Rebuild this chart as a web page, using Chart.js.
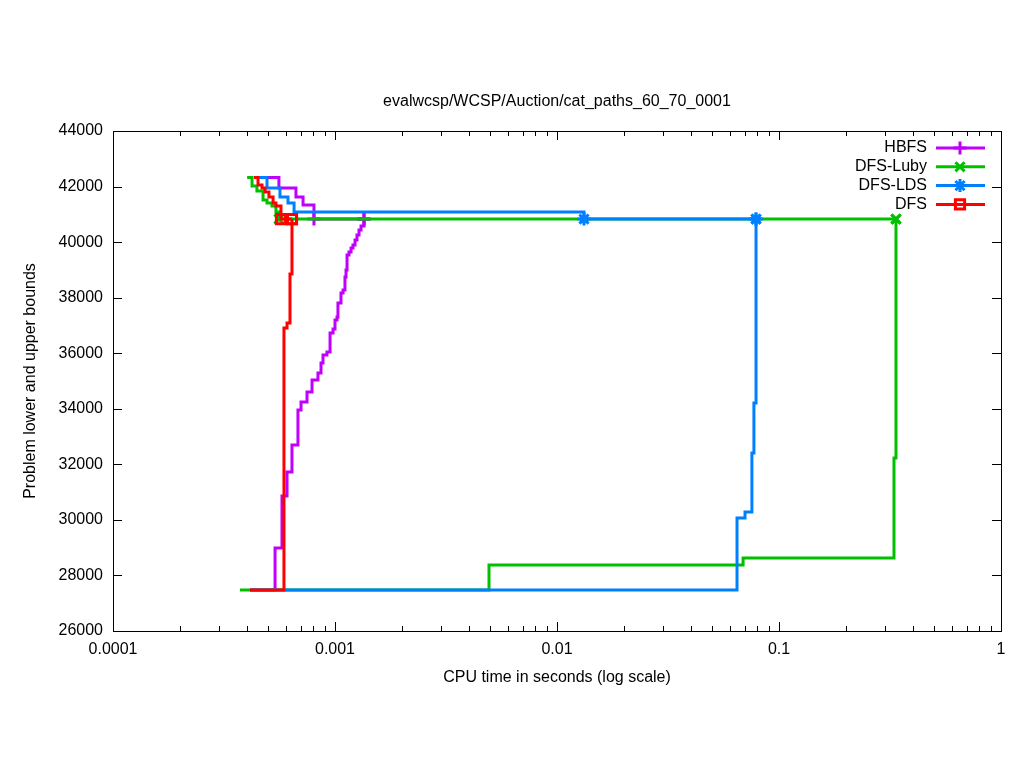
<!DOCTYPE html>
<html>
<head>
<meta charset="utf-8">
<script src="https://cdn.jsdelivr.net/npm/chart.js@4/dist/chart.umd.min.js"></script>
<style>
  html, body { margin: 0; padding: 0; background: #fff; }
  #chart { display: block; }
</style>
</head>
<body>
<canvas id="chart" width="1024" height="768"></canvas>
<script>
// ---- data (CPU seconds, bound value) ----
const TITLE = 'evalwcsp/WCSP/Auction/cat_paths_60_70_0001';
const OPTIMUM = 40830;

const hbfsUpperTime = [0.000432, 0.000559, 0.000667, 0.000718, 0.000804, 0.001351];
const hbfsUpperCost = [42330, 41950, 41620, 41340, 40830, 40830];
const hbfsLowerTime = [0.000414, 0.000537, 0.000577, 0.000608, 0.000640, 0.000681, 0.000703, 0.000748,
  0.000788, 0.000838, 0.000865, 0.000883, 0.000920, 0.000950, 0.000980, 0.001000, 0.001021, 0.001031,
  0.001064, 0.001087, 0.001109, 0.001121, 0.001133, 0.001156, 0.001181, 0.001205, 0.001231, 0.001256,
  0.001283, 0.001310, 0.001351];
const hbfsLowerCost = [27480, 28990, 30860, 31720, 32700, 33960, 34240, 34600,
  35040, 35290, 35650, 35940, 36040, 36730, 36870, 37200, 37300, 37810,
  38170, 38280, 38740, 39000, 39540, 39640, 39790, 39900, 40080, 40260,
  40440, 40580, 40830];

const lubyUpperTime = [0.000402, 0.000423, 0.000445, 0.000474, 0.000494, 0.000520, 0.000542, 0.000559, 0.3365];
const lubyUpperCost = [42330, 42020, 41840, 41520, 41410, 41300, 41080, 40830, 40830];
const lubyLowerTime = [0.000373, 0.00494, 0.0689, 0.3296, 0.3365];
const lubyLowerCost = [27480, 28380, 28630, 32230, 40830];

const ldsUpperTime = [0.000432, 0.000494, 0.000565, 0.000614, 0.000654, 0.01323, 0.0788];
const ldsUpperCost = [42330, 41950, 41620, 41410, 41080, 40830, 40830];
const ldsLowerTime = [0.000414, 0.0647, 0.0703, 0.0755, 0.0771, 0.0788];
const ldsLowerCost = [27480, 30070, 30280, 32410, 34210, 40830];

const dfsUpperTime = [0.000432, 0.000450, 0.000469, 0.000484, 0.000504, 0.000526, 0.000542, 0.000571, 0.000640];
const dfsUpperCost = [42330, 42060, 41950, 41800, 41620, 41410, 41300, 40830, 40830];
const dfsLowerTime = [0.000414, 0.000589, 0.000608, 0.000627, 0.000640];
const dfsLowerCost = [27480, 36910, 37090, 38850, 40830];

const xTickValues = [0.0001, 0.001, 0.01, 0.1, 1];

// name, colour, marker, draw order (lower = on top)
const METHODS = [
  { name: 'HBFS',     color: '#c000ff', marker: 'cross',    order: 4, up: [hbfsUpperTime, hbfsUpperCost], lo: [hbfsLowerTime, hbfsLowerCost] },
  { name: 'DFS-Luby', color: '#00c000', marker: 'crossRot', order: 3, up: [lubyUpperTime, lubyUpperCost], lo: [lubyLowerTime, lubyLowerCost] },
  { name: 'DFS-LDS',  color: '#0080ff', marker: 'star',     order: 2, up: [ldsUpperTime, ldsUpperCost],   lo: [ldsLowerTime, ldsLowerCost] },
  { name: 'DFS',      color: '#ff0000', marker: 'rect',     order: 1, up: [dfsUpperTime, dfsUpperCost],   lo: [dfsLowerTime, dfsLowerCost] }
];

const MARK_R = 6.5;
const toPoints = (t, c) => t.map((x, i) => ({ x, y: c[i] }));

function makeDataset(m, pair, isUpper) {
  const pts = toPoints(pair[0], pair[1]);
  return {
    label: m.name + (isUpper ? ' ub' : ' lb'),
    data: pts,
    borderColor: m.color,
    borderWidth: 3,
    borderJoinStyle: 'miter',
    borderCapStyle: 'butt',
    stepped: 'before',
    fill: false,
    order: m.order,
    pointStyle: m.marker,
    pointBorderColor: m.color,
    pointBackgroundColor: 'rgba(0,0,0,0)',
    pointBorderWidth: 3,
    pointHoverRadius: 0,
    pointRadius: ctx => {
      const p = ctx.raw;
      if (!p || p.y !== OPTIMUM) return 0;
      return (isUpper || ctx.dataIndex === pts.length - 1) ? MARK_R : 0;
    }
  };
}

const datasets = [];
METHODS.forEach(m => {
  datasets.push(makeDataset(m, m.up, true));
  datasets.push(makeDataset(m, m.lo, false));
});

function drawMarker(ctx, style, x, y, r) {
  const d = r * Math.SQRT1_2;
  ctx.beginPath();
  if (style === 'cross' || style === 'star') {
    ctx.moveTo(x - r, y); ctx.lineTo(x + r, y);
    ctx.moveTo(x, y - r); ctx.lineTo(x, y + r);
  }
  if (style === 'crossRot' || style === 'star') {
    ctx.moveTo(x - d, y - d); ctx.lineTo(x + d, y + d);
    ctx.moveTo(x - d, y + d); ctx.lineTo(x + d, y - d);
  }
  if (style === 'rect') ctx.rect(x - d, y - d, 2 * d, 2 * d);
  ctx.stroke();
}

// gnuplot style frame with inward ticks, mirrored on all sides
const frameTicks = {
  id: 'frameTicks',
  afterDatasetsDraw(chart) {
    const { ctx, chartArea: a, scales } = chart;
    ctx.save();
    ctx.strokeStyle = '#000';
    ctx.lineWidth = 1;
    ctx.beginPath();
    scales.y.ticks.forEach(t => {
      const py = Math.round(scales.y.getPixelForValue(t.value)) + 0.5;
      ctx.moveTo(a.left, py); ctx.lineTo(a.left + 9, py);
      ctx.moveTo(a.right, py); ctx.lineTo(a.right - 9, py);
    });
    for (let e = -4; e <= 0; e++) {
      for (let k = 1; k <= 9; k++) {
        const v = k * Math.pow(10, e);
        if (v > 1.0001) break;
        const px = Math.round(scales.x.getPixelForValue(v)) + 0.5;
        const len = k === 1 ? 9 : 5;
        ctx.moveTo(px, a.bottom); ctx.lineTo(px, a.bottom - len);
        ctx.moveTo(px, a.top); ctx.lineTo(px, a.top + len);
      }
    }
    ctx.stroke();
    ctx.strokeRect(Math.round(a.left) + 0.5, Math.round(a.top) + 0.5,
      Math.round(a.right - a.left), Math.round(a.bottom - a.top));
    ctx.restore();
  }
};

// title centred over the plot, and key in the top right corner
const titleAndKey = {
  id: 'titleAndKey',
  afterDraw(chart) {
    const { ctx, chartArea: a } = chart;
    ctx.save();
    ctx.font = '16px "Liberation Sans", Arial, sans-serif';
    ctx.fillStyle = '#000';
    ctx.textAlign = 'center';
    ctx.textBaseline = 'middle';
    ctx.fillText(TITLE, (a.left + a.right) / 2, a.top - 29);

    ctx.textAlign = 'right';
    METHODS.forEach((m, i) => {
      const y = a.top + 17 + i * 18.8;
      const textRight = a.right - 74;
      ctx.fillStyle = '#000';
      ctx.fillText(m.name, textRight, y);
      ctx.strokeStyle = m.color;
      ctx.lineWidth = 3;
      ctx.beginPath();
      ctx.moveTo(textRight + 9, y); ctx.lineTo(textRight + 58, y);
      ctx.stroke();
      drawMarker(ctx, m.marker, textRight + 33, y, MARK_R);
    });
    ctx.restore();
  }
};

Chart.defaults.font.family = '"Liberation Sans", Arial, sans-serif';
Chart.defaults.font.size = 16;
Chart.defaults.color = '#000';

new Chart(document.getElementById('chart'), {
  type: 'line',
  data: { datasets },
  plugins: [frameTicks, titleAndKey],
  options: {
    responsive: false,
    animation: false,
    events: [],
    layout: { padding: { left: 0, right: 23, top: 131, bottom: 0 } },
    plugins: {
      legend: { display: false },
      tooltip: { enabled: false },
      title: { display: false }
    },
    scales: {
      x: {
        type: 'logarithmic',
        min: 0.0001,
        max: 1,
        afterBuildTicks: s => { s.ticks = xTickValues.map(v => ({ value: v })); },
        afterFit: s => { s.height = 137; },
        grid: { display: false, drawTicks: false },
        border: { display: false },
        ticks: {
          autoSkip: false,
          maxRotation: 0,
          padding: 9,
          color: '#000',
          callback: v => String(v)
        },
        title: {
          display: true,
          text: 'CPU time in seconds (log scale)',
          color: '#000',
          padding: { top: 0, bottom: 81 }
        }
      },
      y: {
        type: 'linear',
        min: 26000,
        max: 44000,
        afterFit: s => { s.width = 113; },
        grid: { display: false, drawTicks: false },
        border: { display: false },
        ticks: {
          stepSize: 2000,
          padding: 10,
          color: '#000',
          callback: v => String(v)
        },
        title: {
          display: true,
          text: 'Problem lower and upper bounds',
          color: '#000',
          padding: { top: 21, bottom: 0 }
        }
      }
    }
  }
});
</script>
</body>
</html>
